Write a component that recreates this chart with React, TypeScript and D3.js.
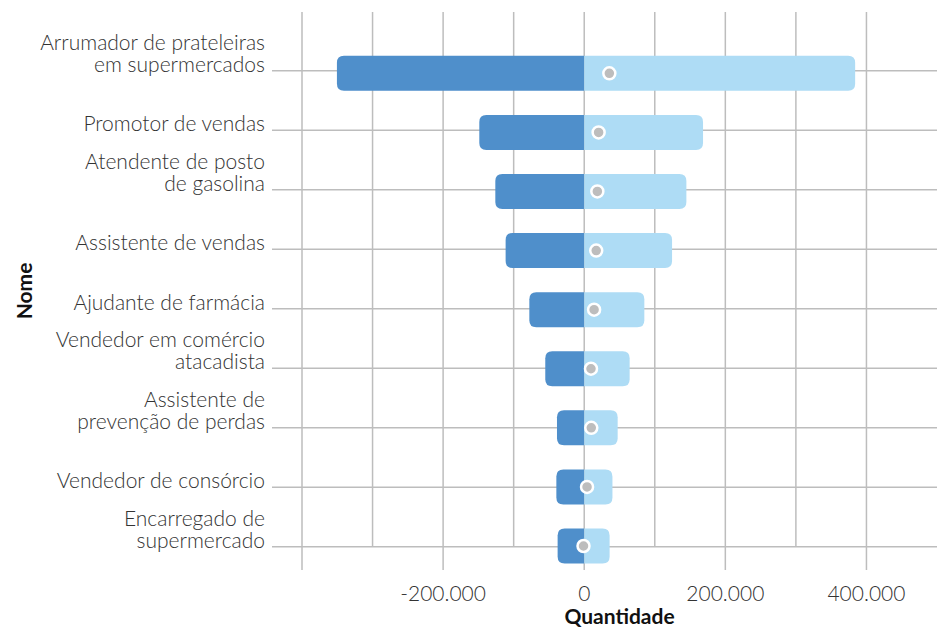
import React from 'react';
import * as d3 from 'd3';

// categories, top to bottom (multi-line labels split with \n)
const categories = [
  'Arrumador de prateleiras\nem supermercados',
  'Promotor de vendas',
  'Atendente de posto\nde gasolina',
  'Assistente de vendas',
  'Ajudante de farmácia',
  'Vendedor em comércio\natacadista',
  'Assistente de\nprevenção de perdas',
  'Vendedor de consórcio',
  'Encarregado de\nsupermercado',
];
const desligados = [-350500, -148700, -126000, -111400, -77800, -55200, -38600, -39500, -37700];
const admitidos = [384000, 168400, 144800, 124500, 85200, 64400, 47400, 40000, 36000];
const saldo = [35600, 20400, 18600, 17000, 14000, 9600, 10000, 4000, -1000];

const xGrid = [-400000, -300000, -200000, -100000, 0, 100000, 200000, 300000, 400000];
const xTicks = [-400000, -200000, 0, 200000, 400000];
const xLabels = [-200000, 0, 200000, 400000];

const W = 940;
const H = 627;
const FONT = 'Lato, "Open Sans", sans-serif';
const TEXT = '#333333';
const GRID = '#bdbdbd';

const locale = d3.formatLocale({ decimal: ',', thousands: '.', grouping: [3], currency: ['', ''], minus: '-' });
const fmt = locale.format(',d');

// half-rounded bar: rounded only on the outer end
function barPath(x0: number, x1: number, y: number, h: number, r: number) {
  const top = y - h / 2;
  const bot = y + h / 2;
  const w = Math.abs(x1 - x0);
  const rr = Math.min(r, w);
  if (x1 >= x0) {
    return `M${x0},${top}H${x1 - rr}Q${x1},${top} ${x1},${top + rr}V${bot - rr}Q${x1},${bot} ${x1 - rr},${bot}H${x0}Z`;
  }
  return `M${x0},${top}H${x1 + rr}Q${x1},${top} ${x1},${top + rr}V${bot - rr}Q${x1},${bot} ${x1 + rr},${bot}H${x0}Z`;
}

export default function App() {
  const x = d3.scaleLinear().domain([-400000, 500000]).range([302, 937]);
  const yLine = d3.scalePoint<string>().domain(categories).range([70.7, 546.7]);
  const yBar = d3.scalePoint<string>().domain(categories).range([73.3, 546]);
  const barH = 35;
  const plotTop = 12;
  const axisBottom = 570;
  const lastRow = yLine(categories[categories.length - 1]) as number;

  return (
    <svg width={W} height={H} style={{ position: 'absolute', left: 0, top: 0, background: '#fff' }} fontFamily={FONT}>
      {/* vertical grid */}
      {xGrid.map((v) => (
        <line
          key={'g' + v}
          x1={x(v)}
          x2={x(v)}
          y1={plotTop}
          y2={xTicks.includes(v) ? axisBottom : lastRow}
          stroke={GRID}
          strokeWidth={1.5}
        />
      ))}
      {/* category lines */}
      {categories.map((c) => (
        <line key={'h' + c} x1={272} x2={x(500000)} y1={yLine(c)} y2={yLine(c)} stroke={GRID} strokeWidth={1.5} />
      ))}
      {/* bars */}
      {categories.map((c, i) => {
        const cy = yBar(c) as number;
        return (
          <g key={'b' + c}>
            <path d={barPath(x(0), x(desligados[i]), cy, barH, 7)} fill="#4f8fcb" />
            <path d={barPath(x(0), x(admitidos[i]), cy, barH, 7)} fill="#aedcf5" />
            <circle cx={x(saldo[i])} cy={cy} r={6} fill="#bdbdbd" stroke="#fff" strokeWidth={2.5} />
          </g>
        );
      })}
      {/* category labels */}
      {categories.map((c) => {
        const lines = c.split('\n');
        const base = (yLine(c) as number) + 1;
        return (
          <text key={'t' + c} x={265} textAnchor="end" fontSize={21} fontWeight={300} fill={TEXT}>
            {lines.map((l, j) => (
              <tspan key={j} x={265} y={base - (lines.length - 1 - j) * 22}>
                {l}
              </tspan>
            ))}
          </text>
        );
      })}
      {/* x tick labels */}
      {xLabels.map((v) => (
        <text key={'x' + v} x={x(v)} y={601} textAnchor="middle" fontSize={21} fontWeight={300} fill={TEXT}>
          {fmt(v)}
        </text>
      ))}
      <text x={(302 + 937) / 2} y={624} textAnchor="middle" fontSize={21} fontWeight={700} fill="#111">
        Quantidade
      </text>
      <text transform={`translate(32,${(plotTop + axisBottom) / 2}) rotate(-90)`} textAnchor="middle" fontSize={21} fontWeight={700} fill="#111">
        Nome
      </text>
    </svg>
  );
}
